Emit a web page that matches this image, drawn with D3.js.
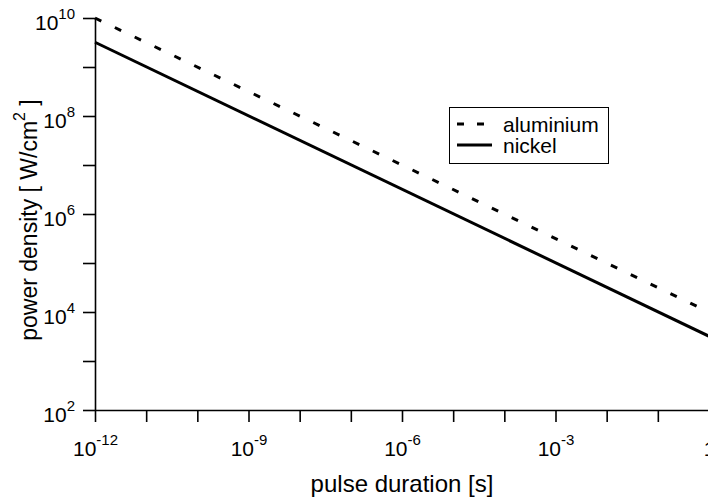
<!DOCTYPE html>
<html>
<head>
<meta charset="utf-8">
<script src="https://cdn.jsdelivr.net/npm/d3@7"></script>
<style>
  html, body { margin: 0; padding: 0; background: #fff; }
  svg { display: block; font-family: "Liberation Sans", Arial, sans-serif; }
</style>
</head>
<body>
<svg id="chart" width="708" height="502"></svg>
<script>
// Threshold power density versus laser pulse duration (log-log)
const pulseDuration = [1e-12, 1];          // s
const aluminium     = [1e10, 1e4];         // W/cm^2
const nickel        = [3.2e9, 3.2e3];      // W/cm^2

const xTickValues = [1e-12, 1e-11, 1e-10, 1e-9, 1e-8, 1e-7, 1e-6, 1e-5, 1e-4, 1e-3, 1e-2, 1e-1, 1];
const xLabelExponents = [-12, -9, -6, -3, 0];
const yTickValues = [1e2, 1e3, 1e4, 1e5, 1e6, 1e7, 1e8, 1e9, 1e10];
const yLabelExponents = [2, 4, 6, 8, 10];

const seriesNames = ["aluminium", "nickel"];

const svg = d3.select("#chart");
const plotLeft = 95, plotRight = 709, plotTop = 18, plotBottom = 410;

const x = d3.scaleLog().domain([1e-12, 1]).range([plotLeft, plotRight]);
const y = d3.scaleLog().domain([1e2, 1e10]).range([plotBottom, plotTop]);

// superscripted power-of-ten label
function powerLabel(sel, exp, supDy) {
  sel.text(null);
  if (exp === 0) {
    sel.append("tspan").text("1");
    return;
  }
  sel.append("tspan").text("10");
  sel.append("tspan").attr("dy", supDy).style("font-size", "15px").text(String(exp));
}

// x axis
const xAxis = svg.append("g")
  .attr("transform", `translate(0,${plotBottom})`)
  .call(d3.axisBottom(x).tickValues(xTickValues).tickSize(12).tickSizeOuter(0).tickFormat(""));
xAxis.select(".domain").attr("stroke", "#000").attr("stroke-width", 1.6);
xAxis.selectAll(".tick line").attr("stroke", "#000").attr("stroke-width", 1.6);
xAxis.selectAll(".tick text").remove();
xAxis.selectAll(".tick").each(function(d) {
  const e = Math.round(Math.log10(d));
  if (!xLabelExponents.includes(e)) return;
  const t = d3.select(this).append("text")
    .attr("y", 46).attr("text-anchor", "middle")
    .attr("fill", "#000").style("font-size", "21px");
  powerLabel(t, e, -11);
});

// y axis
const yAxis = svg.append("g")
  .attr("transform", `translate(${plotLeft},0)`)
  .call(d3.axisLeft(y).tickValues(yTickValues).tickSize(12).tickSizeOuter(0).tickFormat(""));
yAxis.select(".domain").attr("stroke", "#000").attr("stroke-width", 1.6);
yAxis.selectAll(".tick line").attr("stroke", "#000").attr("stroke-width", 1.6);
yAxis.selectAll(".tick text").remove();
yAxis.selectAll(".tick").each(function(d) {
  const e = Math.round(Math.log10(d));
  if (!yLabelExponents.includes(e)) return;
  const t = d3.select(this).append("text")
    .attr("x", -20).attr("y", 11).attr("text-anchor", "end")
    .attr("fill", "#000").style("font-size", "21px");
  powerLabel(t, e, -11);
});

// data lines
const rows = pulseDuration.map((t, i) => ({ t, al: aluminium[i], ni: nickel[i] }));
const lineAl = d3.line().x(d => x(d.t)).y(d => y(d.al));
const lineNi = d3.line().x(d => x(d.t)).y(d => y(d.ni));

svg.append("path").datum(rows)
  .attr("d", lineAl).attr("fill", "none").attr("stroke", "#000")
  .attr("stroke-width", 3).attr("stroke-dasharray", "7,15");
svg.append("path").datum(rows)
  .attr("d", lineNi).attr("fill", "none").attr("stroke", "#000")
  .attr("stroke-width", 3);

// axis titles
svg.append("text")
  .attr("x", (plotLeft + plotRight) / 2).attr("y", 492)
  .attr("text-anchor", "middle").style("font-size", "24px")
  .text("pulse duration [s]");

const yt = svg.append("text")
  .attr("transform", "translate(37,220) rotate(-90)")
  .attr("text-anchor", "middle").style("font-size", "23px");
yt.append("tspan").text("power density [ W/cm");
yt.append("tspan").attr("dy", -12).style("font-size", "16px").text("2");
yt.append("tspan").attr("dy", 12).text(" ]");

// legend
const legend = svg.append("g");
legend.append("rect")
  .attr("x", 449.5).attr("y", 107.5).attr("width", 159).attr("height", 56)
  .attr("fill", "#fff").attr("stroke", "#000").attr("stroke-width", 1);
const dashes = ["7,13", null];
seriesNames.forEach((name, i) => {
  const ly = 124 + i * 21;
  legend.append("line")
    .attr("x1", 457).attr("x2", 492).attr("y1", ly).attr("y2", ly)
    .attr("stroke", "#000").attr("stroke-width", 3)
    .attr("stroke-dasharray", dashes[i]);
  legend.append("text")
    .attr("x", 503).attr("y", ly + 8)
    .style("font-size", "21px").text(name);
});
</script>
</body>
</html>
